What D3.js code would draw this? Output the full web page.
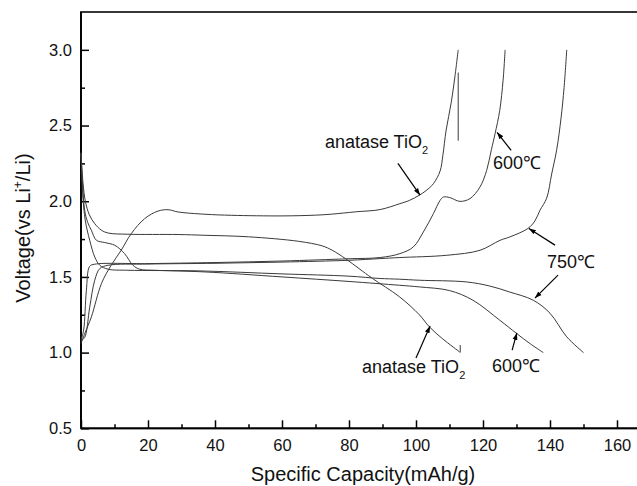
<!DOCTYPE html>
<html>
<head>
<meta charset="utf-8">
<script src="https://cdn.jsdelivr.net/npm/d3@7"></script>
<style>
  body { margin: 0; background: #fff; }
  svg { display: block; font-family: "Liberation Sans", Arial, sans-serif; }
  .curve { fill: none; stroke: #3a3a3a; stroke-width: 1; }
  .axis path, .axis line { stroke: #000; stroke-width: 1.5; }
  .axis text { font-size: 16.5px; fill: #111; }
</style>
</head>
<body>
<div id="chart"></div>
<script>
// 数据：比容量(mAh/g) 与 电压(V)
var anataseDischarge = [[0,2.32],[0.6,2.12],[1.3,2.0],[2.5,1.91],[4.1,1.852],[6,1.81],[8.1,1.79],[14,1.782],[29,1.78],[37,1.775],[50,1.765],[65,1.735],[72,1.705],[75,1.676],[79,1.62],[83,1.555],[87,1.49],[95,1.37],[101,1.25],[104,1.17],[108,1.09],[113,1.005]];
var discharge600 = [[0,2.32],[0.5,2.1],[1.1,1.94],[2,1.86],[3.1,1.808],[4.6,1.742],[7.1,1.727],[10.1,1.709],[13,1.654],[15.5,1.577],[17.5,1.551],[22,1.544],[37,1.533],[60,1.5],[80,1.47],[95,1.445],[101,1.434],[110,1.41],[117,1.346],[125,1.214],[130,1.127],[134,1.06],[138,1.0]];
var discharge750 = [[0,2.32],[0.5,2.05],[1.3,1.87],[2.6,1.742],[4.1,1.632],[5.6,1.577],[8.1,1.551],[14,1.544],[35,1.54],[60,1.52],[80,1.505],[89,1.49],[95,1.485],[101,1.478],[115,1.467],[122,1.44],[128,1.4],[135,1.346],[140,1.26],[145,1.104],[150,1.0]];
var anataseCharge = [[0,1.06],[1.2,1.13],[3.1,1.236],[6.1,1.456],[9,1.577],[12,1.676],[15,1.786],[19,1.885],[23,1.935],[26,1.944],[29,1.929],[37,1.914],[45,1.907],[60,1.903],[70,1.908],[75,1.915],[82,1.93],[89.3,1.945],[95.2,1.984],[98,2.005],[101,2.04],[103,2.07],[105.2,2.116],[107.2,2.2],[108,2.3],[109,2.47],[110.5,2.65],[111.6,2.82],[112.6,3.0]];
var charge600 = [[0,1.08],[0.8,1.15],[1.6,1.41],[2.6,1.57],[4.1,1.584],[20,1.588],[40,1.595],[60,1.605],[80,1.62],[89.3,1.628],[95.2,1.654],[99.2,1.698],[102.2,1.797],[105.2,1.918],[107.2,2.006],[108.2,2.028],[110.1,2.024],[113.1,1.999],[116.1,2.017],[119.1,2.094],[121.1,2.204],[122.5,2.34],[123.6,2.446],[125,2.6],[126,2.8],[126.6,3.0]];
var charge750 = [[0,1.08],[1.1,1.1],[2.6,1.3],[4.1,1.478],[5.6,1.555],[8.1,1.577],[20,1.585],[40,1.59],[60,1.598],[80,1.61],[89.3,1.621],[95.2,1.628],[109.2,1.643],[119.1,1.676],[125.1,1.742],[128,1.764],[133.4,1.82],[135.5,1.87],[137,1.94],[139,2.02],[140.5,2.18],[142,2.34],[143.3,2.55],[144.2,2.75],[145,3.0]];
// 原图中的两段短竖线
var anataseStub = [[112.6,2.85],[112.6,2.4]];
var anataseTail = [[113.2,1.0],[113.2,1.05]];

var xTicks = [0, 20, 40, 60, 80, 100, 120, 140, 160];
var xMinor = [10, 30, 50, 70, 90, 110, 130, 150];
var yTicks = [0.5, 1.0, 1.5, 2.0, 2.5, 3.0];
var yMinor = [0.75, 1.25, 1.75, 2.25, 2.75];

// 标注：文字位置与箭头（数据坐标）
var labels = [
  { text: "anatase TiO", sub: "2", x: 72.8, y: 2.349 },
  { text: "600℃", x: 123, y: 2.21 },
  { text: "750℃", x: 139.1, y: 1.558 },
  { text: "600℃", x: 122.7, y: 0.871 },
  { text: "anatase TiO", sub: "2", x: 83.9, y: 0.864 }
];
var arrows = [
  [[94.6, 2.25], [101.2, 2.04]],
  [[128.4, 2.336], [124.2, 2.455]],
  [[141.5, 1.71], [133.7, 1.82]],
  [[142.4, 1.512], [135.5, 1.36]],
  [[128.7, 1.017], [130.1, 1.13]],
  [[100, 0.965], [104.2, 1.176]]
];

var width = 637, height = 486;
var marginLeft = 81, plotTop = 12, plotBottom = 428.3;

var svg = d3.select("#chart").append("svg")
  .attr("width", width)
  .attr("height", height);

var x = d3.scaleLinear().domain([0, 170]).range([marginLeft, marginLeft + 170 * 3.35]);
var y = d3.scaleLinear().domain([0.5, 3.25]).range([plotBottom, plotTop]);

// 外框（右侧在画布之外）
svg.append("rect")
  .attr("x", x(0)).attr("y", y(3.25))
  .attr("width", x(170) - x(0)).attr("height", y(0.5) - y(3.25))
  .attr("fill", "none").attr("stroke", "#222").attr("stroke-width", 1.8);

// 坐标轴，刻度朝内
svg.append("g").attr("class", "axis")
  .attr("transform", "translate(0," + y(0.5) + ")")
  .call(d3.axisBottom(x).tickValues(xTicks).tickSize(-8).tickPadding(11).tickFormat(d3.format("d")))
  .call(function (g) { g.select(".domain").remove(); });
svg.append("g").attr("class", "axis")
  .attr("transform", "translate(0," + y(0.5) + ")")
  .call(d3.axisBottom(x).tickValues(xMinor).tickSize(-4).tickFormat(""))
  .call(function (g) { g.select(".domain").remove(); });

svg.append("g").attr("class", "axis")
  .attr("transform", "translate(" + x(0) + ",0)")
  .call(d3.axisLeft(y).tickValues(yTicks).tickSize(-8).tickPadding(9).tickFormat(d3.format(".1f")))
  .call(function (g) { g.select(".domain").remove(); });
svg.append("g").attr("class", "axis")
  .attr("transform", "translate(" + x(0) + ",0)")
  .call(d3.axisLeft(y).tickValues(yMinor).tickSize(-4).tickFormat(""))
  .call(function (g) { g.select(".domain").remove(); });

// 左、下轴线
svg.append("line").attr("x1", x(0)).attr("x2", x(0)).attr("y1", y(3.25)).attr("y2", y(0.5))
  .attr("stroke", "#000").attr("stroke-width", 1.8);
svg.append("line").attr("x1", x(0)).attr("x2", width).attr("y1", y(0.5)).attr("y2", y(0.5))
  .attr("stroke", "#000").attr("stroke-width", 1.8);

// 曲线
var line = d3.line()
  .x(function (d) { return x(d[0]); })
  .y(function (d) { return y(d[1]); })
  .curve(d3.curveCatmullRom.alpha(0.5));

var series = [anataseDischarge, discharge600, discharge750, anataseCharge, charge600, charge750, anataseStub, anataseTail];
svg.selectAll("path.curve")
  .data(series)
  .enter().append("path")
  .attr("class", "curve")
  .attr("d", line);

// 箭头
svg.append("defs").append("marker")
  .attr("id", "head")
  .attr("viewBox", "0 0 10 10")
  .attr("refX", 10).attr("refY", 5)
  .attr("markerWidth", 7).attr("markerHeight", 7)
  .attr("markerUnits", "userSpaceOnUse")
  .attr("orient", "auto")
  .append("path").attr("d", "M0,1.5L10,5L0,8.5Z").attr("fill", "#000");

svg.selectAll("line.arrow")
  .data(arrows)
  .enter().append("line")
  .attr("class", "arrow")
  .attr("x1", function (d) { return x(d[0][0]); })
  .attr("y1", function (d) { return y(d[0][1]); })
  .attr("x2", function (d) { return x(d[1][0]); })
  .attr("y2", function (d) { return y(d[1][1]); })
  .attr("stroke", "#000").attr("stroke-width", 1.2)
  .attr("marker-end", "url(#head)");

var lab = svg.selectAll("text.label")
  .data(labels)
  .enter().append("text")
  .attr("class", "label")
  .attr("x", function (d) { return x(d.x); })
  .attr("y", function (d) { return y(d.y); })
  .attr("font-size", 18)
  .attr("fill", "#111");
lab.append("tspan").text(function (d) { return d.text; });
lab.filter(function (d) { return d.sub; })
  .append("tspan").attr("font-size", 11).attr("dy", 6).text(function (d) { return d.sub; });

// 轴标题
svg.append("text")
  .attr("x", 363).attr("y", 481)
  .attr("text-anchor", "middle")
  .attr("font-size", 20)
  .attr("fill", "#111")
  .text("Specific Capacity(mAh/g)");

var yt = svg.append("text")
  .attr("transform", "translate(30,228) rotate(-90)")
  .attr("text-anchor", "middle")
  .attr("font-size", 20)
  .attr("fill", "#111");
yt.append("tspan").text("Voltage(vs Li");
yt.append("tspan").attr("font-size", 12).attr("dy", -8).text("+");
yt.append("tspan").attr("dy", 8).text("/Li)");
</script>
</body>
</html>
